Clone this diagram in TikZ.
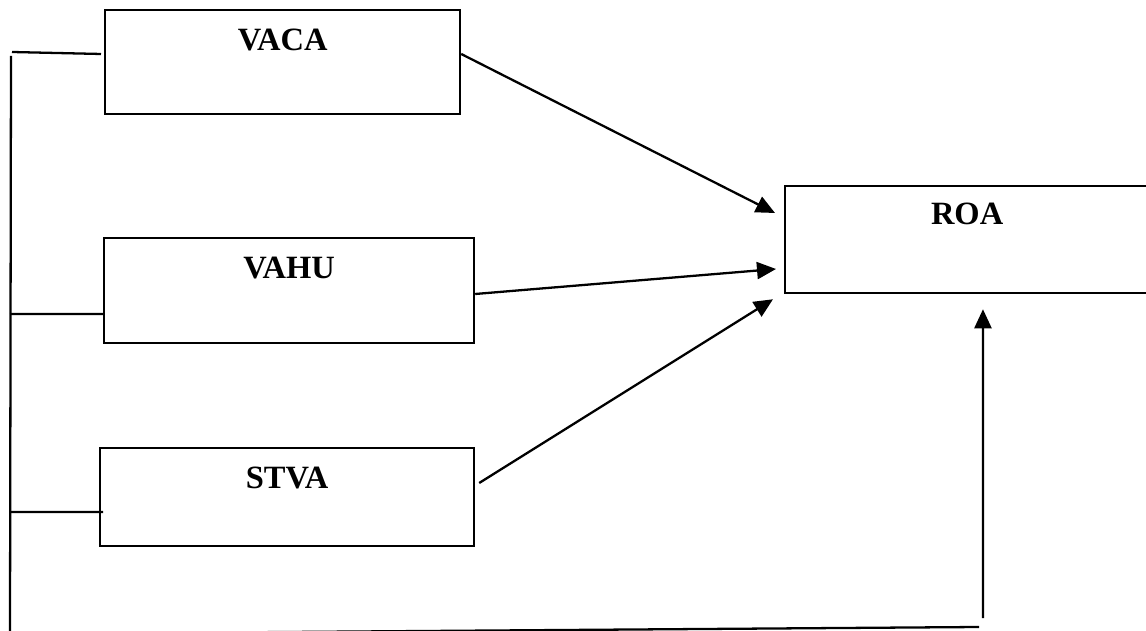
\documentclass[tikz,border=0pt]{standalone}
\usepackage{fontspec}
\setmainfont{Liberation Serif}
\usetikzlibrary{arrows.meta}
\begin{document}
\begin{tikzpicture}[x=0.02cm,y=-0.02cm,line width=1.3pt,
  >={Triangle[length=0.38cm,width=0.34cm]},
  kotak/.style={draw,anchor=north west,inner sep=0pt,text height=0.81cm,
    font=\fontsize{18.5}{23}\selectfont\bfseries}]
\useasboundingbox (0,0) rectangle (1146,631);
\node[kotak,minimum width=7.1cm,text depth=1.27cm](vaca) at (104,9){VACA};
\node[kotak,minimum width=7.4cm,text depth=1.29cm](vahu) at (103,237){VAHU};
\node[kotak,minimum width=7.48cm,text depth=1.15cm](stva) at (99,447){STVA};
\node[kotak,minimum width=7.28cm,text height=0.76cm,text depth=1.38cm](roa) at (784,185){ROA};
\coordinate(a1) at (12,52);
\coordinate(atas) at (11,56);
\coordinate(a2) at (10,314);
\coordinate(a3) at (10,512);
\coordinate(bawah) at (10,634);
\coordinate(kanan) at (983,618);
\coordinate(ujung) at (979,627);
% garis kiri
\draw(atas)--(bawah)--(ujung);
\draw(a1)--([xshift=-0.06cm,yshift=-0.9cm]vaca.north west);
\draw(a2)--([yshift=-1.54cm]vahu.north west);
\draw(a3)--([xshift=0.08cm,yshift=-1.3cm]stva.north west);
% panah ke ROA
\draw[->]([yshift=-0.9cm]vaca.north east)--([xshift=-0.18cm,yshift=-0.56cm]roa.north west);
\draw[->]([yshift=-1.14cm]vahu.north east)--([xshift=-0.16cm,yshift=-1.68cm]roa.north west);
\draw[->]([xshift=0.08cm,yshift=-0.72cm]stva.north east)--([xshift=-0.22cm,yshift=-0.1cm]roa.south west);
\draw[->](kanan)--([xshift=3.98cm,yshift=-0.3cm]roa.south west);
\end{tikzpicture}
\end{document}
